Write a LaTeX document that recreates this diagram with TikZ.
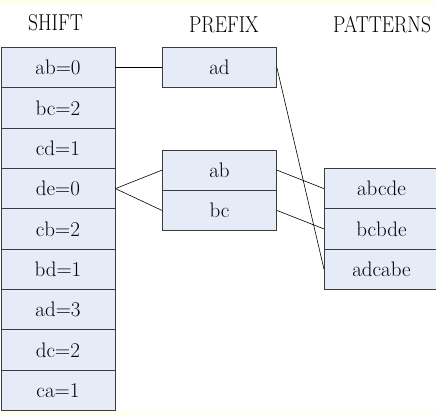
\documentclass[tikz,border=0pt]{standalone}
\definecolor{cellfill}{HTML}{E5ECF7}
\definecolor{bordc}{HTML}{3C3C3C}
\definecolor{bandc}{HTML}{FFFFF0}
\tikzset{
  cell/.style={draw=bordc, fill=cellfill, line width=0.9pt, minimum width=114pt,
    minimum height=40.33pt, inner sep=0pt, anchor=north west,
    font=\fontsize{21}{23}\selectfont},
  hdr/.style={inner sep=0pt, font=\fontsize{23}{25}\selectfont},
  conn/.style={draw=black, line width=0.6pt}
}
\newcommand{\hd}[1]{\scalebox{0.85}[1]{#1}}
\begin{document}
\begin{tikzpicture}[x=1pt,y=-1pt]
\useasboundingbox (0,0) rectangle (436,415);
\fill[white] (0,0) rectangle (436,415);
\fill[bandc] (0,0) rectangle (436,5);
\fill[bandc] (0,411) rectangle (436,415);
% headers
\node[hdr] (hs) at (55.5,23) {\hd{SHIFT}};
\node[hdr] (hp) at (224,25) {\hd{PREFIX}};
\node[hdr] (ht) at (382,24.5) {\hd{PATTERNS}};
% shift column
\node[cell] (s1) at (0.5,47) {ab=0};
\node[cell] (s2) at (0.5,87.33) {bc=2};
\node[cell] (s3) at (0.5,127.67) {cd=1};
\node[cell] (s4) at (0.5,168) {de=0};
\node[cell] (s5) at (0.5,208.33) {cb=2};
\node[cell] (s6) at (0.5,248.67) {bd=1};
\node[cell] (s7) at (0.5,289) {ad=3};
\node[cell] (s8) at (0.5,329.33) {dc=2};
\node[cell] (s9) at (0.5,369.67) {ca=1};
% prefix
\node[cell] (p1) at (162,47) {ad};
\node[cell] (p2) at (162,149.5) {ab};
\node[cell] (p3) at (162,189.83) {bc};
% patterns
\node[cell] (t1) at (324,168) {abcde};
\node[cell] (t2) at (324,208.33) {bcbde};
\node[cell] (t3) at (324,248.67) {adcabe};
% connectors
\draw[conn] (s1.east) -- (p1.west);
\draw[conn] (s4.east) -- (p2.west);
\draw[conn] (s4.east) -- (p3.west);
\draw[conn] (p2.east) -- (t1.west);
\draw[conn] (p3.east) -- (t2.west);
\draw[conn] (p1.east) -- (t3.west);
\end{tikzpicture}
\end{document}
